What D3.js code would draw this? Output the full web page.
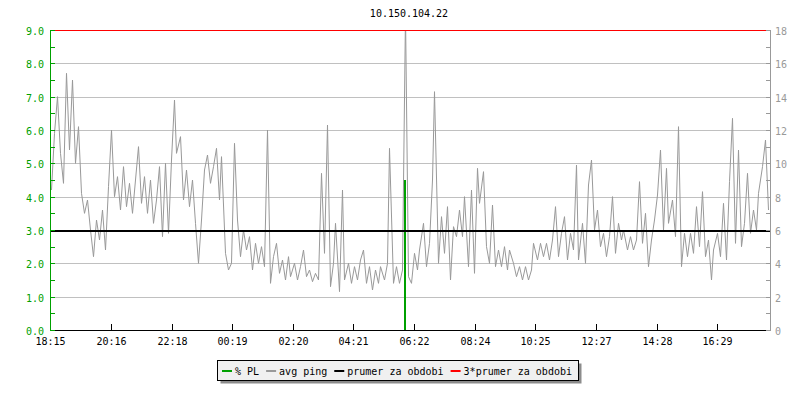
<!DOCTYPE html>
<html><head><meta charset="utf-8">
<script src="https://cdn.jsdelivr.net/npm/d3@7"></script>
<style>
body{margin:0;background:#fff}
svg{display:block;font-family:"DejaVu Sans Mono",monospace;font-size:10px}
</style>
</head><body><svg id="c" width="800" height="400"></svg>
<script>
const chartTitle = "10.150.104.22";
const xTickLabels = ["18:15","20:16","22:18","00:19","02:20","04:21","06:22","08:24","10:25","12:27","14:28","16:29"];
const xTickMinutes = [0,121,243,364,485,606,727,849,970,1092,1213,1334];
const spanMinutes = 1440;
const plTickValues = [0,1,2,3,4,5,6,7,8,9];
const pingTickValues = [0,2,4,6,8,10,12,14,16,18];
const pingStartMin = 1;
const pingStepMin = 6;
// avg ping (ms), one value every 6 minutes from 18:15
const avgPing = [
 8.4,11.8,14.0,10.6, 8.8,15.4,10.8,15.0,10.0,12.2,
 8.2, 7.0, 7.8, 6.0, 4.4, 6.6, 5.4, 7.2, 4.8, 8.6,
 12.0, 8.0, 9.2, 7.2, 9.8, 7.4, 8.8, 7.0, 9.0,11.0,
 7.6, 9.2, 7.0, 9.0, 6.4, 7.8, 9.8, 5.6,10.0, 5.8,
 10.2,13.8,10.6,11.6, 7.8, 9.6, 7.4, 9.0, 6.4, 4.0,
 6.6, 9.6,10.5, 8.8, 9.8,10.9, 7.8,10.4, 4.6, 3.6,
 4.0,11.2, 6.6, 4.4, 6.0, 4.8, 5.6, 3.6, 5.2, 4.0,
 5.0, 3.8,12.0, 2.8, 4.4, 5.2, 3.4, 4.2, 3.0, 4.4,
 3.2, 4.0, 3.0, 3.8, 4.8, 3.2, 3.6, 2.9, 3.4, 3.0,
 9.4, 4.6,12.3, 2.6, 4.0, 6.4, 2.3, 8.4, 3.0, 4.0,
 2.8, 3.8, 3.0, 4.2, 4.8, 2.8, 3.8, 2.4, 3.6, 2.8,
 3.8, 3.0, 4.0,10.9, 2.8, 3.8, 2.8, 3.6,19.0, 3.2,
 2.8, 4.6, 3.6, 4.8, 6.4, 3.8, 5.2, 9.0,14.3, 4.0,
 6.8, 4.6, 7.4, 3.0, 6.2, 5.6, 7.2, 5.6, 8.0, 3.8,
 8.4, 3.4, 9.7, 7.6, 9.5, 5.0, 4.0, 7.5, 3.8, 4.8,
 3.8, 5.0, 3.6, 4.8, 4.0, 3.2, 3.8, 3.0, 3.8, 3.0,
 3.6, 5.2, 4.2, 5.2, 4.4, 5.2, 4.2, 5.4, 7.4, 4.4,
 5.8, 6.8, 4.2, 5.8, 4.8, 9.9, 4.2, 6.4, 4.0, 8.7,
 10.2, 6.0, 7.2, 5.0, 5.8, 4.4, 5.6, 8.0, 4.6, 6.4,
 5.4, 6.0, 4.8, 5.6, 4.8, 5.4, 8.9, 5.2, 7.0, 3.8,
 5.4, 6.6, 8.1,10.8, 6.0, 9.7, 6.4, 7.8, 5.6,12.2,
 3.8, 5.8, 4.4, 5.8, 4.6, 7.4, 5.0, 8.3, 4.4, 5.4,
 3.0, 4.8, 5.8, 4.4, 7.6, 4.2, 8.9,12.7, 5.2,10.8,
 5.0, 6.4, 9.4, 5.8, 7.2, 6.0, 8.2, 9.8,11.4, 7.2
];
// packet loss (%) events
const plMinutes = [709];
const plValues = [4.5];
const periodMeanPing = 6;      // ms
const meanMultiplier = 3;
const legendLabels = ["% PL","avg ping","prumer za obdobi","3*prumer za obdobi"];
const legendColors = ["#00a000","#999999","#000000","#ff0000"];

const GREEN = "#00a000", GRAY = "#999999", GRID = "#c0c0c0";
const svg = d3.select("#c");
const L = 50, R = 770, T = 30, B = 330;

const x = d3.scaleLinear().domain([0, spanMinutes]).range([L, R]);
const yL = d3.scaleLinear().domain([0, 9]).range([B, T]);
const yR = d3.scaleLinear().domain([0, 18]).range([B, T]);
const px = v => Math.round(v) + 0.5;

svg.append("defs").append("clipPath").attr("id","plot")
  .append("rect").attr("x", L).attr("y", T).attr("width", R - L + 1).attr("height", B - T);

// title
svg.append("text").attr("x", 409).attr("y", 17).attr("text-anchor","middle").attr("fill","#000").text(chartTitle);

// grid lines
svg.append("g").selectAll("line").data(plTickValues.filter(v => v > 0 && v < 9)).join("line")
  .attr("x1", L).attr("x2", R).attr("y1", d => px(yL(d))).attr("y2", d => px(yL(d)))
  .attr("stroke", GRID).attr("stroke-width", 1);

const plot = svg.append("g").attr("clip-path","url(#plot)");

// % PL
plot.append("g").selectAll("line").data(plMinutes.map((m,i)=>({m, v: plValues[i]}))).join("line")
  .attr("x1", d => Math.round(x(d.m))).attr("x2", d => Math.round(x(d.m)))
  .attr("y1", yL(0)).attr("y2", d => yL(d.v))
  .attr("stroke", GREEN).attr("stroke-width", 2);

// avg ping
const pingData = avgPing.map((v,i) => ({t: pingStartMin + i*pingStepMin, v}));
plot.append("path").datum(pingData)
  .attr("d", d3.line().x(d => px(x(d.t))).y(d => yR(d.v)))
  .attr("fill","none").attr("stroke", GRAY).attr("stroke-width", 1);

// period mean
plot.append("line").attr("x1", L).attr("x2", R + 1)
  .attr("y1", yR(periodMeanPing) + 1).attr("y2", yR(periodMeanPing) + 1)
  .attr("stroke","#000").attr("stroke-width", 2);
// 3 * mean
svg.append("line").attr("x1", L).attr("x2", R)
  .attr("y1", yR(periodMeanPing * meanMultiplier) + 0.5).attr("y2", yR(periodMeanPing * meanMultiplier) + 0.5)
  .attr("stroke","#ff0000").attr("stroke-width", 1);

// bottom axis
const xa = svg.append("g");
xa.append("line").attr("x1", L).attr("x2", R - 4).attr("y1", B + 0.5).attr("y2", B + 0.5).attr("stroke","#000");
xa.selectAll("line.t").data(xTickMinutes).join("line").attr("class","t")
  .attr("x1", d => px(x(d))).attr("x2", d => px(x(d))).attr("y1", B - 6).attr("y2", B)
  .attr("stroke","#000");
xa.selectAll("text").data(xTickMinutes).join("text")
  .attr("x", d => Math.round(x(d)) + 0.5).attr("y", B + 15).attr("text-anchor","middle")
  .attr("fill","#000").text((d,i) => xTickLabels[i]);

// left axis
const la = svg.append("g");
la.append("line").attr("x1", L + 0.5).attr("x2", L + 0.5).attr("y1", T).attr("y2", B + 1).attr("stroke", GREEN);
la.selectAll("line.t").data(d3.range(0, 9.01, 0.5)).join("line").attr("class","t")
  .attr("x1", L).attr("x2", L + 5).attr("y1", d => px(yL(d))).attr("y2", d => px(yL(d)))
  .attr("stroke", GREEN);
la.selectAll("text").data(plTickValues).join("text")
  .attr("x", 44).attr("y", d => yL(d) + 5).attr("text-anchor","end")
  .attr("fill", GREEN).text(d => d.toFixed(1));

// right axis
const ra = svg.append("g");
ra.append("line").attr("x1", R + 0.5).attr("x2", R + 0.5).attr("y1", T).attr("y2", B + 1).attr("stroke", GRAY);
ra.selectAll("line.t").data(d3.range(0, 19, 1)).join("line").attr("class","t")
  .attr("x1", R - 4).attr("x2", R).attr("y1", d => px(yR(d))).attr("y2", d => px(yR(d)))
  .attr("stroke", GRAY);
ra.selectAll("text").data(pingTickValues).join("text")
  .attr("x", 775).attr("y", d => yR(d) + 5).attr("text-anchor","start")
  .attr("fill", GRAY).text(d => d);

// legend
const lg = svg.append("g");
const shadow = lg.append("rect").attr("fill","#8c8c8c");
const box = lg.append("rect").attr("fill","#f0f0f0").attr("stroke","#000");
let cx = 222;
const ly = 371;
legendLabels.forEach((lab, i) => {
  lg.append("line").attr("x1", cx).attr("x2", cx + 10).attr("y1", ly).attr("y2", ly)
    .attr("stroke", legendColors[i]).attr("stroke-width", 2);
  const t = lg.append("text").attr("x", cx + 13).attr("y", ly + 4).attr("fill","#000").text(lab);
  cx += 13 + t.node().getComputedTextLength() + 7;
});
const bx = 217.5, bw = 361;
box.attr("x", bx).attr("y", 360.5).attr("width", bw).attr("height", 20);
shadow.attr("x", bx + 3).attr("y", 363.5).attr("width", bw).attr("height", 20);
</script>
</body></html>
